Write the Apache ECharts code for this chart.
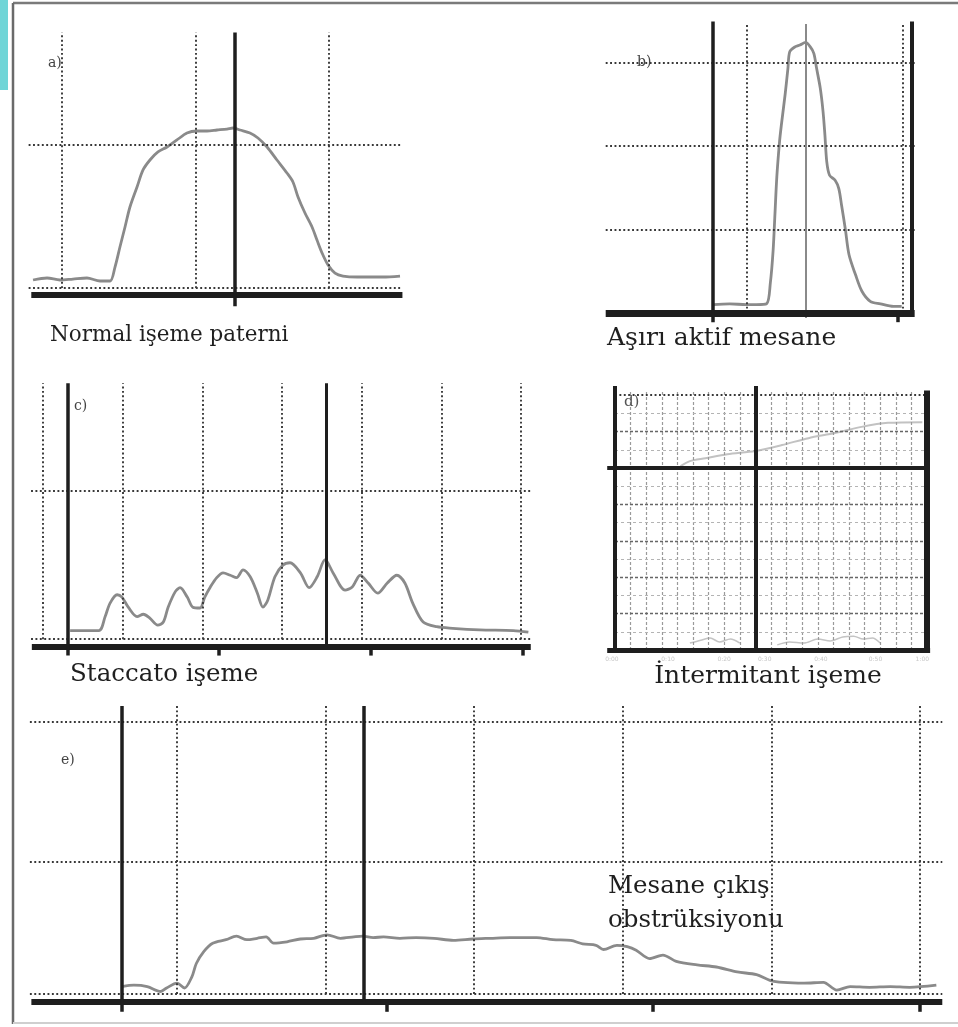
<!DOCTYPE html>
<html><head><meta charset="utf-8">
<script src="https://cdn.jsdelivr.net/npm/echarts@6/dist/echarts.min.js"></script>
<style>html,body{margin:0;padding:0;background:#fff}#c{width:958px;height:1027px}</style>
</head><body><div id="c"></div>
<script>
// ---------- data (time units, flow units) ----------
// a) Normal işeme paterni
const aTime = [-2.17,-1.12,-0.15,0.82,1.87,2.85,3.6,3.97,4.34,4.72,5.09,5.62,6.07,6.59,7.19,7.87,8.61,9.36,10.11,10.86,11.61,12.36,12.81,13.33,14.08,14.68,15.36,16.1,16.85,17.3,17.68,18.2,18.73,19.1,19.48,19.93,20.45,21.05,22.1,23.07,24.04,25.32];
const aFlow = [2.0,2.27,2.0,2.13,2.27,1.87,1.87,3.73,6.4,9.07,11.73,14.4,16.67,18.0,19.07,19.73,20.67,21.6,21.87,21.87,22.0,22.13,22.27,22.0,21.6,20.93,19.73,18.0,16.27,15.07,13.07,10.93,9.07,7.33,5.6,4.0,2.93,2.53,2.4,2.4,2.4,2.53];
// b) Aşırı aktif mesane
const bTime = [0.0,1.8,3.6,4.7,5.8,6.2,6.5,6.7,6.9,7.2,7.4,7.8,8.1,8.3,8.9,9.4,10.0,10.5,10.9,11.2,11.6,11.9,12.1,12.3,12.6,13.2,13.6,13.9,14.3,14.7,15.4,16.1,17.0,18.1,19.5,20.4];
const bFlow = [1.0,1.1,1.0,1.0,1.1,3.6,7.5,11.9,16.3,20.6,22.6,26.2,29.3,31.3,31.9,32.1,32.4,31.9,31.1,29.3,26.9,24.1,21.3,18.1,16.5,15.9,14.9,12.9,10.1,7.0,4.6,2.6,1.4,1.1,0.8,0.8];
// c) Staccato işeme
const cTime = [3.4,7.0,7.8,8.4,9.3,9.9,10.7,11.8,12.6,13.4,14.4,15.1,15.7,16.6,17.2,18.1,18.8,19.7,20.3,21.0,21.8,22.6,23.5,24.3,25.1,26.0,26.9,27.6,28.2,29.1,30.1,31.0,32.3,33.4,34.4,35.4,36.4,37.9,38.8,39.8,40.8,42.0,43.2,44.4,45.4,46.4,47.7,49.4,51.4,54.8,59.0,60.9];
const cFlow = [2.1,2.1,3.9,5.6,6.7,6.4,5.1,3.9,4.2,3.7,2.8,3.2,5.1,7.1,7.6,6.4,5.1,5.0,6.4,7.7,8.9,9.5,9.2,8.9,9.9,9.0,6.9,5.1,6.0,9.0,10.5,10.8,9.5,7.6,9.0,11.2,9.5,7.3,7.7,9.2,8.2,6.9,8.2,9.2,8.2,5.6,3.2,2.6,2.4,2.2,2.1,1.9];
// d) İntermitant işeme
const dVolTime = [4.2,4.8,5.8,7.2,9.0,10.7,12.4,14.1,15.8,17.5,19.7];
const dVol = [50.5,51.9,52.7,53.8,54.7,56.3,58.2,59.6,61.3,62.4,62.6];
const dFlowTime = [4.8,5.5,6.1,6.7,7.4,8.0,9.2,10.4,11.2,12.1,13.0,13.8,14.6,15.3,15.9,16.5,17.0];
const dFlow = [1.9,2.7,3.3,2.2,3.0,1.9,null,1.4,2.2,1.9,3.0,2.5,3.6,3.8,3.0,3.3,1.9];
const dTickPos = [-0.2,3.4,7.0,9.6,13.2,16.7,19.7];
const dTickLabels = ['0:00','0:10','0:20','0:30','0:40','0:50','1:00'];
// e) Mesane çıkış obstrüksiyonu
const eTime = [-3.7,-2.9,-2.0,-1.1,-0.7,0.0,0.5,1.0,1.3,1.8,2.4,3.3,4.0,4.7,5.4,6.0,6.5,7.4,8.3,9.2,10.1,11.0,11.9,12.5,13.2,13.9,15.0,16.1,17.3,18.6,19.9,21.1,22.4,24.2,25.3,26.5,27.3,28.2,28.7,29.6,30.3,30.9,31.8,32.7,33.6,35.0,36.3,37.7,39.0,39.9,40.8,42.2,43.5,44.4,45.3,46.6,48.0,49.3,51.1];
const eFlow = [2.2,2.4,2.2,1.5,2.0,2.7,2.0,3.6,5.5,7.2,8.4,8.9,9.4,8.9,9.1,9.3,8.4,8.6,9.0,9.1,9.6,9.1,9.3,9.4,9.2,9.3,9.1,9.2,9.1,8.8,9.0,9.1,9.2,9.2,8.9,8.8,8.3,8.1,7.5,8.1,7.9,7.4,6.2,6.7,5.8,5.3,5.0,4.3,3.9,3.1,2.8,2.7,2.8,1.7,2.2,2.1,2.2,2.1,2.4];

const titles = ['Normal işeme paterni','Aşırı aktif mesane','Staccato işeme','İntermitant işeme','Mesane çıkış','obstrüksiyonu'];
const letters = ['a)','b)','c)','d)','e)'];

// ---------- layout ----------
const P = [
  {x0:62,  ux:13.35, xmin:-2.5, xmax:25.5, y0:295,  uy:7.5,  ymin:-1.6, ymax:35},
  {x0:713, ux:9.25,  xmin:-11.6,xmax:21.8, y0:313,  uy:8.35, ymin:-1.2, ymax:35},
  {x0:43,  ux:7.97,  xmin:-1.5, xmax:61.2, y0:647,  uy:7.8,  ymin:-1.2, ymax:34},
  {x0:615, ux:15.6,  xmin:-0.6, xmax:20.3, y0:650,  uy:3.64, ymin:-3.5, ymax:73},
  {x0:177, ux:14.86, xmin:-9.9, xmax:51.5, y0:1002, uy:7,    ymin:-1.5, ymax:42.6}
];
const grids = P.map(p => ({left:p.x0+p.xmin*p.ux, top:p.y0-p.ymax*p.uy, width:(p.xmax-p.xmin)*p.ux, height:(p.ymax-p.ymin)*p.uy, outerBoundsMode:'none', containLabel:false}));
const xAxes = P.map((p,i)=>({gridIndex:i,type:'value',min:p.xmin,max:p.xmax,show:false}));
const yAxes = P.map((p,i)=>({gridIndex:i,type:'value',min:p.ymin,max:p.ymax,show:false}));

const DOT = {color:'#383838', width:1.9, type:[1.9,2.5], cap:'butt'};
const TH = w => ({color:'#1e1e1e', width:w, type:'solid', cap:'butt'});
const THIN = {color:'#8a8a8a', width:2, type:'solid'};
const LIGHT = {color:'#9a9a9a', width:1.2, type:[3,2]};
const LIGHT2 = {color:'#b4b4b4', width:1, type:[3,3]};
const MID = {color:'#666666', width:1.3, type:[3,2]};
const seg = (x1,y1,x2,y2,ls)=>[{coord:[x1,y1],lineStyle:ls},{coord:[x2,y2]}];
const vl = (x,y1,y2,ls)=>seg(x,y1,x,y2,ls);
const hl = (y,x1,x2,ls)=>seg(x1,y,x2,y,ls);

function marks(i, z, data){
  return {type:'line', xAxisIndex:i, yAxisIndex:i, data:[], z:z, silent:true,
    markLine:{silent:true, symbol:['none','none'], label:{show:false}, animation:false, data:data}};
}
function curve(i, xs, ys, style){
  return {type:'line', xAxisIndex:i, yAxisIndex:i, z:2, showSymbol:false, silent:true, smooth:0.3,
    connectNulls:false, lineStyle:style, data:xs.map((x,k)=>[x, ys[k]])};
}
const CURVE = {color:'#8a8a8a', width:2.8};

const series = [];
// a)
series.push(marks(0,1,[
  hl(0.93,-2.5,25.5,DOT), hl(20,-2.5,25.5,DOT),
  vl(0,0.93,35,DOT), vl(10,0.93,35,DOT), vl(20,0.93,35,DOT)
]));
series.push(curve(0,aTime,aFlow,CURVE));
series.push(marks(0,3,[ hl(0,-2.3,25.5,TH(6)), vl(12.96,-1.5,35,TH(3.5)) ]));
// b)
series.push(marks(1,1,[
  hl(10,-11.6,21.8,DOT), hl(20,-11.6,21.8,DOT), hl(30,-11.6,21.8,DOT),
  vl(3.68,0,34.6,DOT), vl(20.5,0,34.6,DOT)
]));
series.push(marks(1,2,[ vl(10,-0.6,34.6,THIN) ]));
series.push(curve(1,bTime,bFlow,CURVE));
series.push(marks(1,3,[ hl(0,-11.6,21.8,TH(7)), vl(0,-1.1,34.9,TH(3.5)), vl(21.5,0,34.9,TH(4)), vl(20,-1.1,0,TH(3.5)) ]));
// c)
series.push(marks(2,1,[
  hl(1.0,-1.5,61.2,DOT), hl(20,-1.5,61.2,DOT),
  vl(0,1,33.8,DOT), vl(10,1,33.8,DOT), vl(20,1,33.8,DOT), vl(30,1,33.8,DOT), vl(40,1,33.8,DOT), vl(50,1,33.8,DOT), vl(60,1,33.8,DOT)
]));
series.push(curve(2,cTime,cFlow,CURVE));
series.push(marks(2,3,[ hl(0,-1.4,61.2,TH(6)), vl(3.1,-1.1,33.8,TH(3.5)), vl(35.6,0,33.8,TH(3)),
  vl(22.1,-1.1,0,TH(3.5)), vl(41.1,-1.1,0,TH(3.5)), vl(60.2,-1.1,0,TH(3.5)) ]));
// d)
const dGrid = [];
for (let k=1;k<20;k++){ if(k!==9) dGrid.push(vl(k,0,71,LIGHT)); }
for (let y=5;y<70;y+=10) dGrid.push(hl(y,0,20,LIGHT2));
[10,20,30,40,60].forEach(y=>dGrid.push(hl(y,0,20,MID)));
dGrid.push(hl(70,0,20,DOT));
series.push(marks(3,1,dGrid));
series.push(curve(3,dVolTime,dVol,{color:'#c2c2c2',width:2}));
series.push(curve(3,dFlowTime,dFlow,{color:'#c4c4c4',width:1.5}));
series.push(marks(3,3,[ hl(0,-0.5,20.2,TH(5)), hl(50,-0.5,20,TH(4)), vl(0,0,72.5,TH(4)), vl(9,0,72.5,TH(4)), vl(20,0,71.3,TH(6)) ]));
series.push({type:'scatter', xAxisIndex:3, yAxisIndex:3, symbolSize:0, silent:true, z:3,
  data:dTickPos.map((x,k)=>({value:[x,-2.6], label:{formatter:dTickLabels[k]}})),
  label:{show:true, position:'inside', color:'#b8b8b8', fontSize:6, fontFamily:'DejaVu Sans'}});
// e)
series.push(marks(4,1,[
  hl(1.15,-9.9,51.5,DOT), hl(20,-9.9,51.5,DOT), hl(40,-9.9,51.5,DOT),
  vl(0,1.15,42.4,DOT), vl(10,1.15,42.4,DOT), vl(20,1.15,42.4,DOT), vl(30,1.15,42.4,DOT), vl(40,1.15,42.4,DOT), vl(50,1.15,42.4,DOT)
]));
series.push(curve(4,eTime,eFlow,CURVE));
series.push(marks(4,3,[ hl(0,-9.8,51.5,TH(6)), vl(-3.7,-1.4,42.3,TH(3.5)), vl(12.6,0,42.3,TH(3.5)),
  vl(14.1,-1.4,0,TH(3.5)), vl(32.0,-1.4,0,TH(3.5)), vl(50.0,-1.4,0,TH(3.5)) ]));

// ---------- text & frame ----------
const SERIF = '"DejaVu Serif", serif';
const txt = (s,x,y,size,align,color)=>({type:'text', x:x, y:y, z:10, silent:true,
  style:{text:s, font:size+'px '+SERIF, fill:color||'#1f1f1f', textAlign:align||'left', textVerticalAlign:'middle'}});
const graphic = [
  {type:'rect', shape:{x:0,y:0,width:8,height:90}, style:{fill:'#6fd5d7'}, silent:true},
  {type:'line', shape:{x1:13,y1:3,x2:958,y2:3}, style:{stroke:'#7a7a7a', lineWidth:2.5}, silent:true},
  {type:'line', shape:{x1:13,y1:3,x2:13,y2:1024}, style:{stroke:'#6a6a6a', lineWidth:2.5}, silent:true},
  {type:'line', shape:{x1:13,y1:1023,x2:958,y2:1023}, style:{stroke:'#cfcfcf', lineWidth:2}, silent:true},
  txt(titles[0],50,335,21.5),
  txt(titles[1],607,338,25),
  txt(titles[2],70,675,24.5),
  txt(titles[3],768,676,25,'center'),
  txt(titles[4],608,887,24.5),
  txt(titles[5],608,921,24.5),
  txt(letters[0],48,63,14,'left','#444'),
  txt(letters[1],637,62,14,'left','#444'),
  txt(letters[2],74,406,14,'left','#444'),
  txt(letters[3],624,402,15,'left','#555'),
  txt(letters[4],61,760,14,'left','#444')
];

const chart = echarts.init(document.getElementById('c'), null, {renderer:'canvas'});
chart.setOption({animation:false, backgroundColor:'#ffffff', grid:grids, xAxis:xAxes, yAxis:yAxes, series:series, graphic:graphic});
</script></body></html>
